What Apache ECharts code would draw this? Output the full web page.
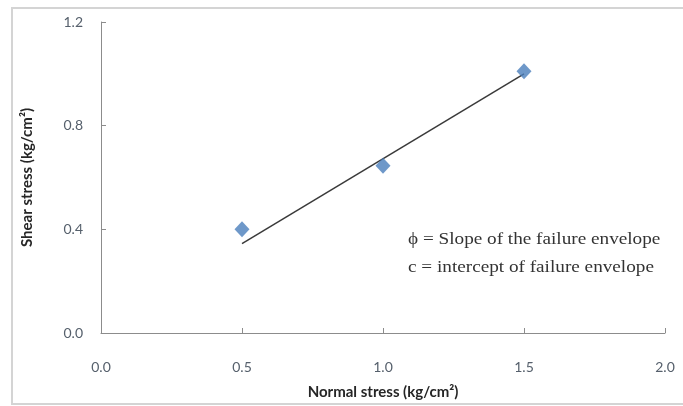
<!DOCTYPE html>
<html style="height: 100%">
  <head>
    <meta charset="utf-8" />
    <title>Failure envelope</title>
  </head>
  <body style="height: 100%; margin: 0; background: #fff">
    <div id="container" style="width: 683px; height: 406px"></div>

    <script src="https://cdn.jsdelivr.net/npm/echarts@6/dist/echarts.min.js"></script>

    <script type="text/javascript">
      // measured points
      var normalStress = [0.5, 1.0, 1.5];
      var shearStress = [0.4, 0.645, 1.01];
      // fitted failure envelope, end points as drawn
      var trendX = [0.5, 1.5];
      var trendY = [0.345, 1.0];

      var xTicks = [0, 0.5, 1.0, 1.5, 2.0];
      var yTicks = [0, 0.4, 0.8, 1.2];

      var notes = [
        "\u03d5 = Slope of the failure envelope",
        "c = intercept of failure envelope",
      ];

      var chart = echarts.init(document.getElementById("container"), null, {
        renderer: "canvas",
      });

      var labelFont = { color: "#56606c", fontFamily: "Lato", fontSize: 14 };
      var nameFont = {
        color: "#262626",
        fontFamily: "Lato",
        fontWeight: "bold",
        fontSize: 15,
      };

      var option = {
        animation: false,
        backgroundColor: "#fff",
        grid: { left: 101, right: 18, top: 22, bottom: 73 },
        xAxis: {
          type: "value",
          min: xTicks[0],
          max: xTicks[xTicks.length - 1],
          interval: 0.5,
          name: "Normal stress (kg/cm\u00b2)",
          nameLocation: "middle",
          nameGap: 52,
          nameTextStyle: nameFont,
          axisLine: { lineStyle: { color: "#8c8c8c", width: 1 } },
          axisTick: { inside: true, length: 5, lineStyle: { color: "#8c8c8c" } },
          axisLabel: Object.assign({ margin: 27, formatter: function (v) { return v.toFixed(1); } }, labelFont),
          splitLine: { show: false },
        },
        yAxis: {
          type: "value",
          min: yTicks[0],
          max: yTicks[yTicks.length - 1],
          interval: 0.4,
          name: "Shear stress (kg/cm\u00b2)",
          nameLocation: "middle",
          nameGap: 66,
          nameTextStyle: nameFont,
          axisLine: { show: true, lineStyle: { color: "#8c8c8c", width: 1 } },
          axisTick: { show: true, inside: true, length: 5, lineStyle: { color: "#8c8c8c" } },
          axisLabel: Object.assign({ margin: 18, formatter: function (v) { return v.toFixed(1); } }, labelFont),
          splitLine: { show: false },
        },
        graphic: [
          {
            type: "rect",
            shape: { x: 12, y: 8, width: 700, height: 396 },
            style: { fill: "none", stroke: "#d4d4d4", lineWidth: 2 },
            silent: true,
          },
          {
            type: "text",
            x: 408,
            y: 232,
            scaleX: 1.2,
            style: {
              text: notes[0],
              font: "16px 'Liberation Serif'",
              fill: "#333",
            },
          },
          {
            type: "text",
            x: 408,
            y: 260,
            scaleX: 1.2,
            style: {
              text: notes[1],
              font: "16px 'Liberation Serif'",
              fill: "#333",
            },
          },
        ],
        series: [
          {
            type: "line",
            data: trendX.map(function (x, i) {
              return [x, trendY[i]];
            }),
            symbol: "none",
            lineStyle: { color: "#3a3a3a", width: 1.5 },
            z: 2,
          },
          {
            type: "scatter",
            data: normalStress.map(function (x, i) {
              return [x, shearStress[i]];
            }),
            symbol: "diamond",
            symbolSize: [15, 16],
            itemStyle: { color: "#4a7ebb" },
            z: 3,
          },
        ],
      };

      chart.setOption(option);
      window.addEventListener("resize", chart.resize);
    </script>
  </body>
</html>
